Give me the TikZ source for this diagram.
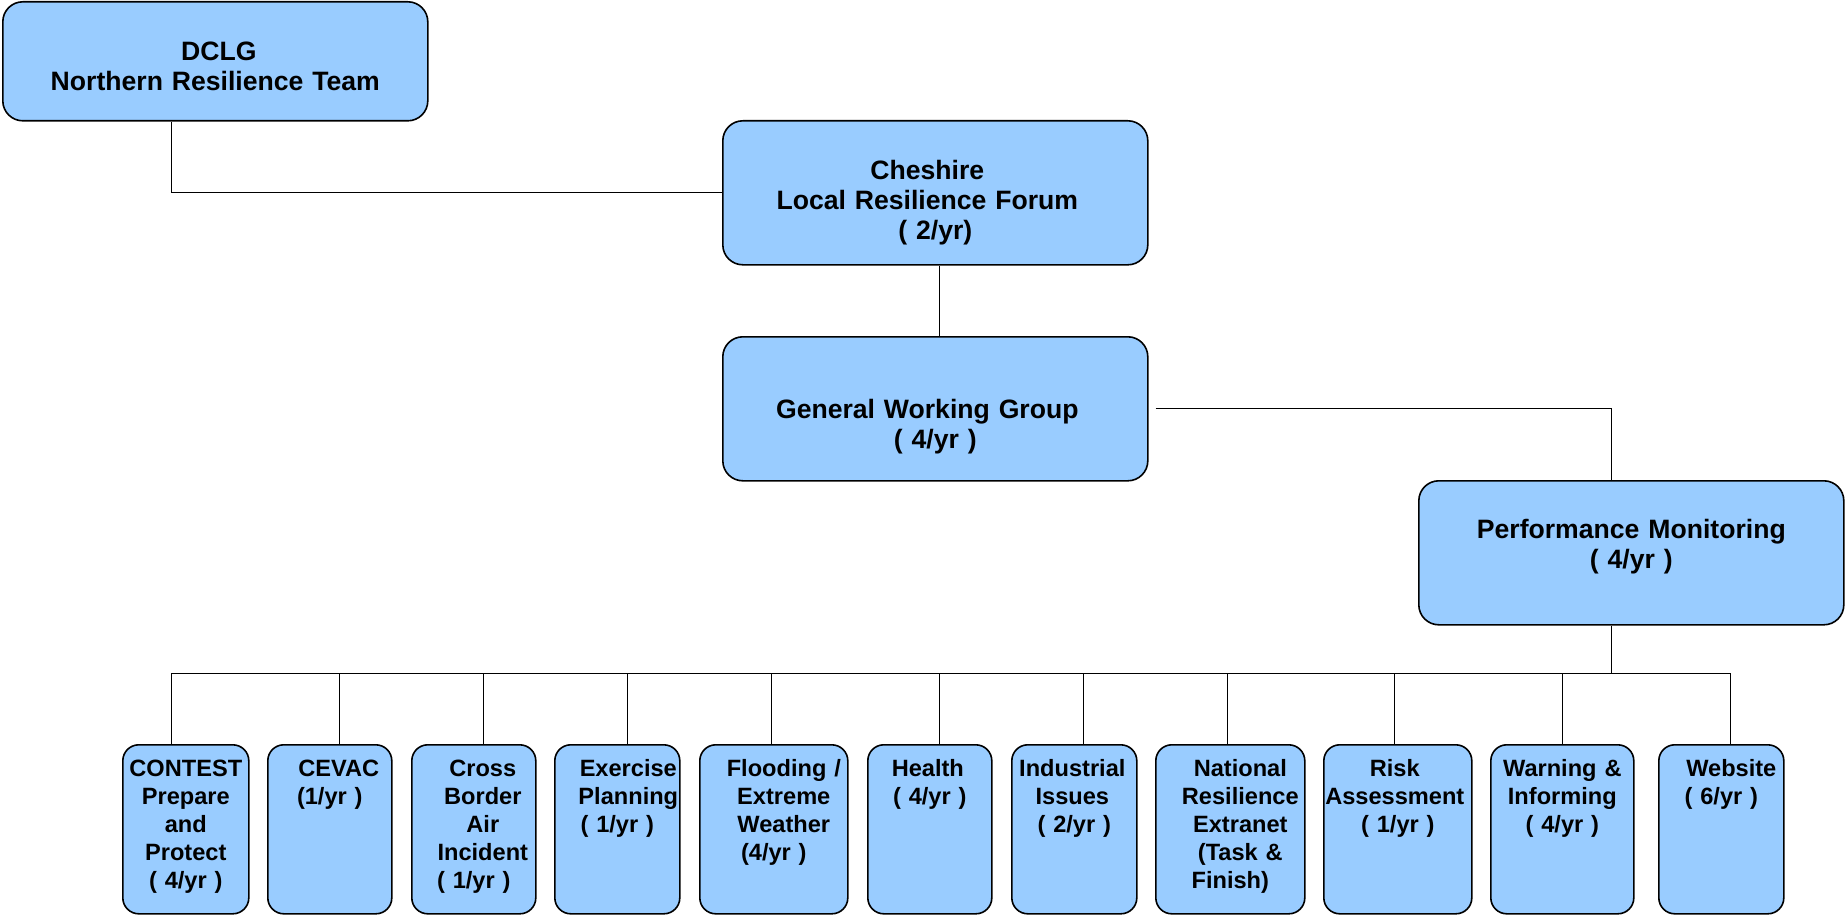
\documentclass[tikz,border=0pt]{standalone}
\usepackage{fontspec}
\setmainfont{Liberation Sans}
\definecolor{lrfblue}{HTML}{99CCFF}
\newcommand{\nudgeR}[1]{\leftskip=#1pt plus 1fil\rightskip=0pt plus 1fil\relax}
\newcommand{\nudgeL}[1]{\rightskip=#1pt plus 1fil\leftskip=0pt plus 1fil\relax}
\tikzset{
    orgbox/.style={draw=black,line width=0.8pt,fill=lrfblue,rounded corners=10pt,inner sep=0pt,align=center,anchor=north west},
    topbox/.style={orgbox,text width=212.5pt,font=\bfseries\fontsize{13.3}{15}\selectfont},
    groupbox/.style={orgbox,rounded corners=8pt,text height=16pt,text depth=68.5pt,font=\bfseries\fontsize{11.8}{14}\selectfont},
    wire/.style={black,line width=0.6pt}
}

\begin{document}
\begin{tikzpicture}[x=0.5pt,y=-0.5pt]
    \useasboundingbox (0,0) rectangle (1845,915);

    % upper levels
    \node[topbox,text height=29.5pt,text depth=30pt] (dclg) at (2,1) {\nudgeR{3.5}DCLG\\Northern Resilience Team};
    \node[topbox,text height=29.5pt,text depth=42.5pt] (lrf) at (722,120) {\nudgeL{8}Cheshire\\Local Resilience Forum\\( 2/yr)};
    \node[topbox,text height=41pt,text depth=31pt] (gwg) at (722,336) {\nudgeL{8}General Working Group\\( 4/yr )};
    \node[topbox,text height=29pt,text depth=43pt] (pm) at (1418,480) {Performance Monitoring\\( 4/yr )};

    \draw[wire] ([xshift=-21.75pt]dclg.south) |- (lrf.west);
    \draw[wire] ([xshift=2.25pt]lrf.south) -- ([xshift=2.25pt]gwg.north);
    \draw[wire] ([xshift=3.5pt]gwg.east) -| ([xshift=-9.75pt]pm.north);
    \coordinate (bus) at ([xshift=-9.75pt,yshift=-24pt]pm.south);
    \draw[wire] ([xshift=-9.75pt]pm.south) -- (bus);

    % working groups
    \node[groupbox,text width=63pt] (contest) at (122,744) {CONTEST\\Prepare\\and\\Protect\\( 4/yr )};
    \node[groupbox,text width=62pt] (cevac) at (267,744) {\nudgeR{9}CEVAC\\(1/yr )};
    \node[groupbox,text width=62pt] (border) at (411,744) {\nudgeR{9}Cross\\Border\\Air\\Incident\\( 1/yr )};
    \node[groupbox,text width=62.5pt] (exercise) at (554,744) {\nudgeR{11}Exercise\\Planning\\( 1/yr )};
    \node[groupbox,text width=74pt] (flooding) at (699,744) {\nudgeR{10}Flooding /\\Extreme\\Weather\\(4/yr )};
    \node[groupbox,text width=62pt] (health) at (867,744) {\nudgeL{2}Health\\( 4/yr )};
    \node[groupbox,text width=62.5pt] (industrial) at (1011,744) {\nudgeL{2}Industrial\\Issues\\( 2/yr )};
    \node[groupbox,text width=74.5pt] (extranet) at (1155,744) {\nudgeR{10}National\\Resilience\\Extranet\\(Task \&\\Finish)};
    \node[groupbox,text width=74pt] (risk) at (1323,744) {\nudgeL{3}Risk\\Assessment\\( 1/yr )};
    \node[groupbox,text width=71.5pt] (warning) at (1490,744) {Warning \&\\Informing\\( 4/yr )};
    \node[groupbox,text width=62.5pt] (website) at (1658,744) {\nudgeR{10}Website\\( 6/yr )};

    \foreach \grp/\dx in {contest/-7,cevac/5,border/5,exercise/5.25,flooding/-1,health/5,industrial/4.75,extranet/-1.25,risk/-1.5,warning/0,website/4.75}
        \draw[wire] ([xshift=\dx pt]\grp.north) |- (bus);
\end{tikzpicture}
\end{document}
